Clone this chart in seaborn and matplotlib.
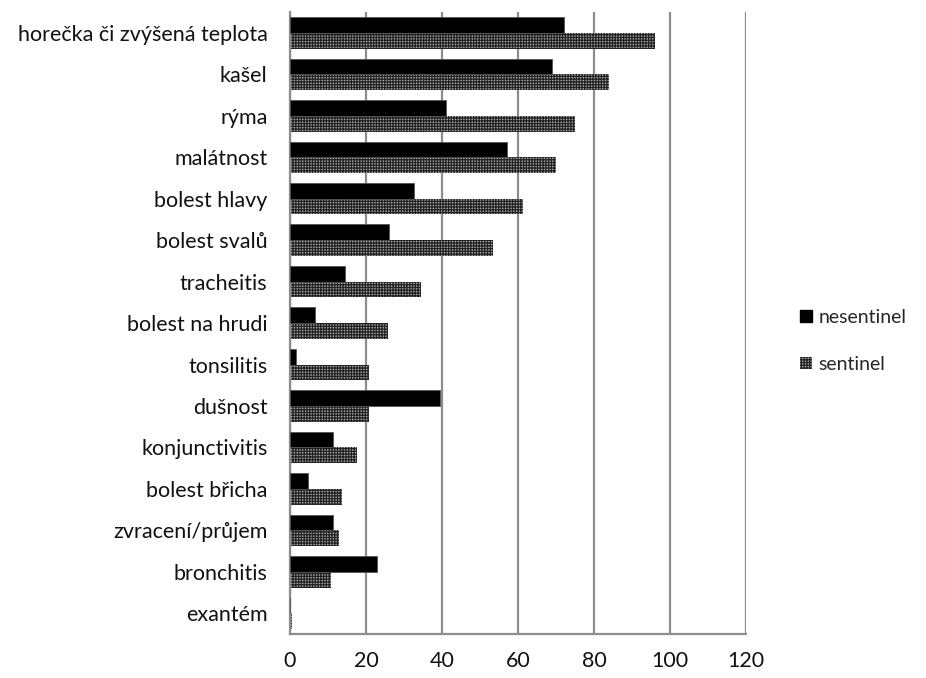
import matplotlib
matplotlib.use("Agg")
import matplotlib.pyplot as plt
import seaborn as sns
import pandas as pd
from matplotlib.patches import Patch

symptoms = [
    "horečka či zvýšená teplota", "kašel", "rýma", "malátnost", "bolest hlavy",
    "bolest svalů", "tracheitis", "bolest na hrudi", "tonsilitis", "dušnost",
    "konjunctivitis", "bolest břicha", "zvracení/průjem", "bronchitis", "exantém",
]
nesentinel = [72, 69, 41, 57, 32.6, 26, 14.6, 6.5, 1.7, 39.5, 11.4, 4.8, 11.4, 22.8, 0]
sentinel = [96, 84, 75, 70, 61.4, 53.5, 34.6, 25.8, 20.8, 20.8, 17.7, 13.8, 13, 10.8, 0.5]
groups = ["nesentinel", "sentinel"]
xticks = [0, 20, 40, 60, 80, 100, 120]

df = pd.DataFrame({
    "symptom": symptoms * 2,
    "value": nesentinel + sentinel,
    "group": [groups[0]] * len(symptoms) + [groups[1]] * len(symptoms),
})

sns.set_style("white")
plt.rcParams["font.family"] = ["Lato", "DejaVu Sans"]
plt.rcParams["hatch.linewidth"] = 0.9

fig = plt.figure(figsize=(9.26, 6.78), dpi=100)
ax = fig.add_axes([0.313, 0.065, 0.493, 0.917])

sns.barplot(data=df, y="symptom", x="value", hue="group", hue_order=groups,
            order=symptoms, orient="h", width=0.76, palette=["black", "#a0a0a0"],
            ax=ax, legend=False, saturation=1)

n = len(symptoms)
for i, p in enumerate(ax.patches):
    if i < n:
        p.set_facecolor("black")
        p.set_edgecolor("#555555")
        p.set_linewidth(0.6)
        p.set_zorder(3)
    else:
        p.set_facecolor("#a8a8a8")
        p.set_edgecolor("#222222")
        p.set_hatch("++++++")
        p.set_linewidth(0)
        p.set_zorder(2)

ax.set_xlim(0, 120)
ax.set_xticks(xticks)
ax.set_xticklabels([str(t) for t in xticks])
ax.set_ylim(n - 0.5, -0.5)
ax.xaxis.grid(True, color="#8c8c8c", linewidth=1.6)
ax.set_axisbelow(True)
ax.set_xlabel("")
ax.set_ylabel("")
for s in ["top", "right"]:
    ax.spines[s].set_visible(False)
ax.spines["left"].set_color("#8c8c8c")
ax.spines["left"].set_linewidth(1.6)
ax.spines["bottom"].set_color("#8c8c8c")
ax.spines["bottom"].set_linewidth(1.6)
ax.tick_params(axis="both", length=0, labelsize=15.5, colors="#111111")
ax.tick_params(axis="x", pad=12)
ax.tick_params(axis="y", pad=16)

handles = [
    Patch(facecolor="black", edgecolor="black", label=groups[0]),
    Patch(facecolor="#a8a8a8", edgecolor="#222222", hatch="++++++", linewidth=0, label=groups[1]),
]
fig.legend(handles=handles, loc="center left", bbox_to_anchor=(0.864, 0.497),
           frameon=False, fontsize=14, handlelength=0.6, handleheight=0.6,
           handletextpad=0.35, labelspacing=1.55, borderaxespad=0, borderpad=0)

fig.savefig("out.png", dpi=100)
